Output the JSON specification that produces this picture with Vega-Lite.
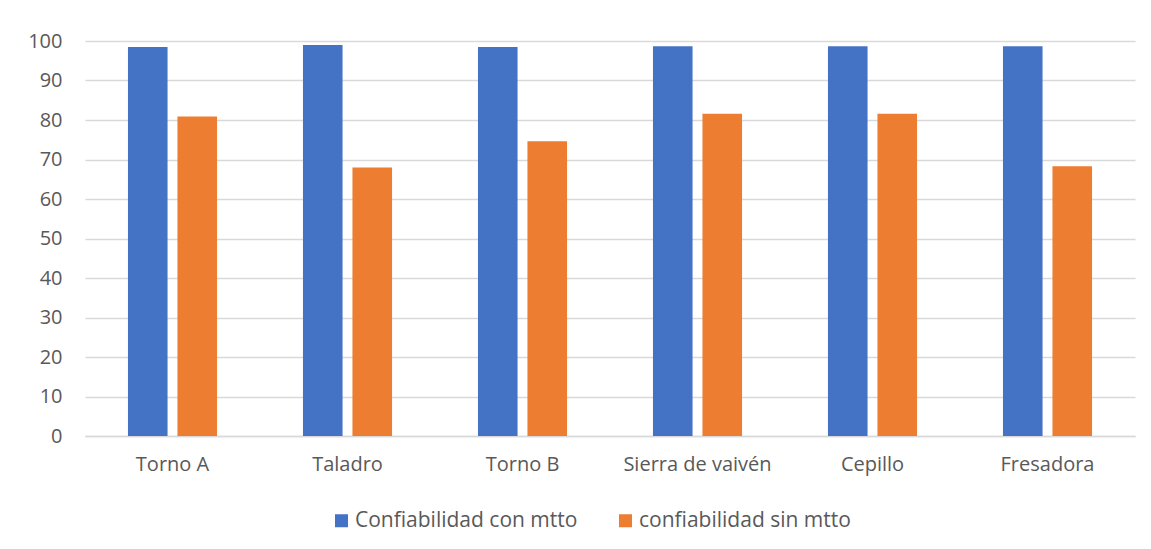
{
  "$schema": "https://vega.github.io/schema/vega-lite/v6.json",
  "width": 1050,
  "height": 395,
  "autosize": {"type": "none"},
  "padding": {"left": 85, "top": 41, "right": 16, "bottom": 113},
  "background": "white",
  "data": {
    "values": [
      {"equipo": "Torno A", "serie": "Confiabilidad con mtto", "valor": 98.5},
      {"equipo": "Torno A", "serie": "confiabilidad sin mtto", "valor": 80.9},
      {"equipo": "Taladro", "serie": "Confiabilidad con mtto", "valor": 99.0},
      {"equipo": "Taladro", "serie": "confiabilidad sin mtto", "valor": 68.0},
      {"equipo": "Torno B", "serie": "Confiabilidad con mtto", "valor": 98.5},
      {"equipo": "Torno B", "serie": "confiabilidad sin mtto", "valor": 74.6},
      {"equipo": "Sierra de vaivén", "serie": "Confiabilidad con mtto", "valor": 98.7},
      {"equipo": "Sierra de vaivén", "serie": "confiabilidad sin mtto", "valor": 81.6},
      {"equipo": "Cepillo", "serie": "Confiabilidad con mtto", "valor": 98.7},
      {"equipo": "Cepillo", "serie": "confiabilidad sin mtto", "valor": 81.6},
      {"equipo": "Fresadora", "serie": "Confiabilidad con mtto", "valor": 98.7},
      {"equipo": "Fresadora", "serie": "confiabilidad sin mtto", "valor": 68.3}
    ]
  },
  "mark": {"type": "bar"},
  "encoding": {
    "x": {
      "field": "equipo",
      "type": "nominal",
      "sort": null,
      "scale": {"paddingInner": 0.491, "paddingOuter": 0.2455},
      "axis": {
        "title": null,
        "labelAngle": 0,
        "ticks": false,
        "grid": false,
        "domain": true,
        "domainColor": "#d9d9d9",
        "domainWidth": 1.5,
        "labelPadding": 18,
        "labelFont": "Open Sans",
        "labelFontSize": 20,
        "labelColor": "#595959"
      }
    },
    "xOffset": {
      "field": "serie",
      "sort": ["Confiabilidad con mtto", "confiabilidad sin mtto"],
      "scale": {"paddingInner": 0.2, "paddingOuter": 0}
    },
    "y": {
      "field": "valor",
      "type": "quantitative",
      "scale": {"domain": [0, 100], "nice": false},
      "axis": {
        "title": null,
        "values": [0, 10, 20, 30, 40, 50, 60, 70, 80, 90, 100],
        "domain": false,
        "ticks": false,
        "grid": true,
        "gridColor": "#d9d9d9",
        "gridWidth": 1.5,
        "labelPadding": 23,
        "labelFont": "Open Sans",
        "labelFontSize": 20,
        "labelColor": "#595959"
      }
    },
    "color": {
      "field": "serie",
      "type": "nominal",
      "scale": {
        "domain": ["Confiabilidad con mtto", "confiabilidad sin mtto"],
        "range": ["#4472C4", "#ED7D31"]
      },
      "legend": {
        "title": null,
        "orient": "none",
        "direction": "horizontal",
        "legendX": 246,
        "legendY": 469,
        "symbolType": "square",
        "symbolSize": 169,
        "symbolStrokeWidth": 0,
        "labelFont": "Open Sans",
        "labelFontSize": 21,
        "labelColor": "#595959",
        "labelOffset": 3,
        "columnPadding": 37,
        "labelLimit": 400
      }
    }
  },
  "config": {"view": {"stroke": null}}
}
